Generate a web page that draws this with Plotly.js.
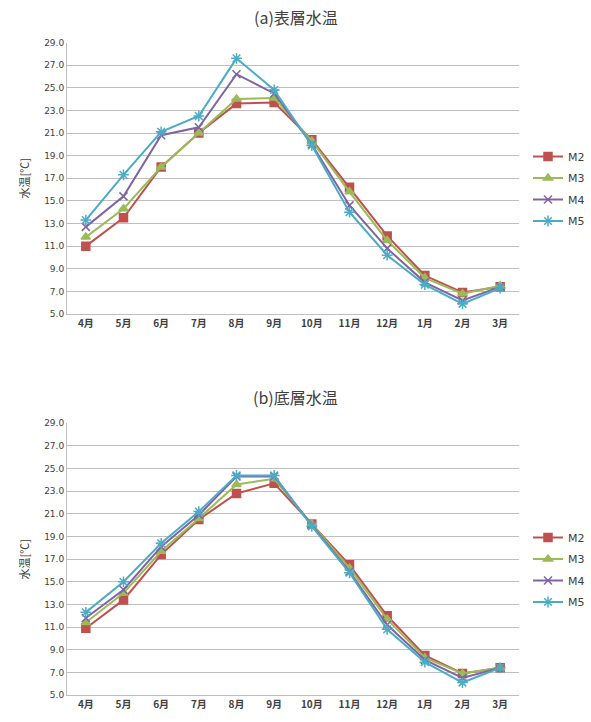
<!DOCTYPE html>
<html>
<head>
<meta charset="utf-8">
<script src="https://cdn.plot.ly/plotly-3.0.1.min.js"></script>
<style>html,body{margin:0;padding:0;background:#fff;}#chart{width:591px;height:722px;}</style>
</head>
<body>
<div id="chart"></div>
<script>
const months = ["4月","5月","6月","7月","8月","9月","10月","11月","12月","1月","2月","3月"];
const seriesNames = ["M2","M3","M4","M5"];
// (a) surface water temperature
const surfM2 = [11.0, 13.5, 18.0, 21.0, 23.6, 23.7, 20.4, 16.2, 11.9, 8.4, 6.9, 7.4];
const surfM3 = [11.8, 14.3, 18.0, 21.0, 24.0, 24.1, 20.3, 15.8, 11.5, 8.2, 6.8, 7.5];
const surfM4 = [12.7, 15.4, 20.8, 21.5, 26.2, 24.5, 20.0, 14.6, 10.8, 7.8, 6.2, 7.4];
const surfM5 = [13.3, 17.3, 21.1, 22.5, 27.6, 24.8, 19.9, 14.0, 10.2, 7.6, 5.9, 7.3];
// (b) bottom water temperature
const botM2 = [10.9, 13.4, 17.4, 20.5, 22.8, 23.7, 20.1, 16.5, 12.0, 8.5, 6.9, 7.4];
const botM3 = [11.4, 14.0, 17.7, 20.6, 23.6, 24.1, 20.1, 16.2, 11.7, 8.3, 6.9, 7.4];
const botM4 = [11.8, 14.3, 18.1, 20.9, 24.3, 24.3, 20.0, 15.9, 11.2, 8.1, 6.5, 7.4];
const botM5 = [12.3, 15.0, 18.4, 21.2, 24.4, 24.4, 19.9, 15.8, 10.8, 7.9, 6.1, 7.4];
const yTicks = [5,7,9,11,13,15,17,19,21,23,25,27,29];

const colors = ["#C0504D","#9BBB59","#8064A2","#4BACC6"];
const symbols = ["square","triangle-up","x-thin-open","asterisk-open"];
const msizes = [8,8,8,9];

function mk(vals, i, xa, ya, lg){
  return {
    x: months, y: vals, name: seriesNames[i], type: "scatter", mode: "lines+markers",
    xaxis: xa, yaxis: ya, legend: lg, legendgroup: lg + seriesNames[i],
    line: {color: colors[i], width: 2},
    marker: {symbol: symbols[i], size: msizes[i], color: colors[i], line: {color: colors[i], width: 1.5}}
  };
}
const traces = [
  mk(surfM2,0,"x","y","legend"), mk(surfM3,1,"x","y","legend"),
  mk(surfM4,2,"x","y","legend"), mk(surfM5,3,"x","y","legend"),
  mk(botM2,0,"x2","y2","legend2"), mk(botM3,1,"x2","y2","legend2"),
  mk(botM4,2,"x2","y2","legend2"), mk(botM5,3,"x2","y2","legend2")
];

const H = 722;
function dom(top, bottom){ return [1 - bottom/H, 1 - top/H]; }
const tickFont = {family: "DejaVu Sans, sans-serif", size: 9, color: "#404040"};
function yax(d, anchor){
  return {
    domain: d, anchor: anchor, range: [5, 29], tickvals: yTicks,
    ticktext: yTicks.map(v => v.toFixed(1)),
    showgrid: true, gridcolor: "#BFBFBF", gridwidth: 1, zeroline: false,
    showline: true, linecolor: "#BFBFBF", linewidth: 1, ticks: "",
    tickfont: tickFont,
    title: {text: "水温[℃]", font: {family: "Noto Sans CJK JP, sans-serif", size: 11, color: "#404040"}, standoff: 12}
  };
}
function xax(anchor){
  return {
    domain: [67/591, 519/591], anchor: anchor, type: "category",
    range: [-0.5, 11.5], showgrid: false, zeroline: false,
    showline: true, linecolor: "#BFBFBF", linewidth: 1, ticks: "",
    tickfont: {family: "Noto Sans CJK JP, sans-serif", size: 10, color: "#404040", weight: "bold"}
  };
}
const legFont = {family: "DejaVu Sans, sans-serif", size: 11, color: "#404040"};
const layout = {
  width: 591, height: 722,
  margin: {l: 0, r: 0, t: 0, b: 0},
  paper_bgcolor: "#fff", plot_bgcolor: "#fff",
  showlegend: true,
  xaxis: xax("y"), yaxis: yax(dom(42.5, 314), "x"),
  xaxis2: xax("y2"), yaxis2: yax(dom(423.3, 695), "x2"),
  legend: {x: 528/591, y: 1 - 142/H, xanchor: "left", yanchor: "top", font: legFont,
           bgcolor: "rgba(0,0,0,0)", tracegroupgap: 2.5, itemwidth: 30},
  legend2: {x: 528/591, y: 1 - 523/H, xanchor: "left", yanchor: "top", font: legFont,
           bgcolor: "rgba(0,0,0,0)", tracegroupgap: 2.5, itemwidth: 30},
  annotations: [
    {text: "(a)表層水温", x: 0.5, y: 1 - 17/H, xref: "paper", yref: "paper", showarrow: false,
     xanchor: "center", yanchor: "middle", font: {family: "Noto Sans CJK JP, sans-serif", size: 16, color: "#404040"}},
    {text: "(b)底層水温", x: 0.5, y: 1 - 397/H, xref: "paper", yref: "paper", showarrow: false,
     xanchor: "center", yanchor: "middle", font: {family: "Noto Sans CJK JP, sans-serif", size: 16, color: "#404040"}}
  ]
};
Plotly.newPlot("chart", traces, layout, {displayModeBar: false, staticPlot: true});
</script>
</body>
</html>
